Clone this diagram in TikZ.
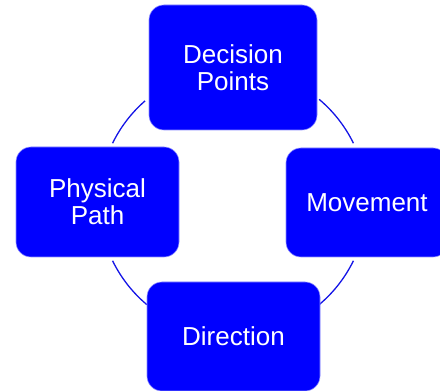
\documentclass[tikz,border=0pt]{standalone}
\usepackage{fontspec}
\setmainfont{Liberation Sans}
\definecolor{boxblue}{RGB}{0,0,255}
\definecolor{edgeblue}{RGB}{140,140,255}
\definecolor{arcblue}{RGB}{20,20,230}
\begin{document}
\begin{tikzpicture}[x=1pt,y=1pt,
  cyclebox/.style={draw=edgeblue, line width=0.6pt, fill=boxblue, rounded corners=15pt,
    text=white, align=center, inner sep=0pt, font=\fontsize{26}{27}\selectfont},
  cyclearc/.style={draw=arcblue, line width=1.3pt}]
\useasboundingbox (0,0) rectangle (440,391);
\clip (0,0) rectangle (440,391);
\coordinate (C) at (233,189);
\draw[cyclearc] (C) ++(131:134) arc[start angle=131, end angle=154, radius=134];
\draw[cyclearc] (C) ++(26:134) arc[start angle=26, end angle=50, radius=134];
\draw[cyclearc] (C) ++(-50:134) arc[start angle=-50, end angle=-26, radius=134];
\draw[cyclearc] (C) ++(206:134) arc[start angle=206, end angle=230, radius=134];
\node[cyclebox, minimum width=168pt, minimum height=125pt] (dec) at (233,323.5) {Decision\\Points};
\node[cyclebox, minimum width=162pt, minimum height=109pt] (mov) at (367,188.5) {Movement};
\node[cyclebox, minimum width=163pt, minimum height=110pt] (phy) at (97.5,189) {Physical\\Path};
\node[cyclebox, minimum width=173pt, minimum height=109pt] (dir) at (233.5,54.5) {Direction};
\end{tikzpicture}
\end{document}
